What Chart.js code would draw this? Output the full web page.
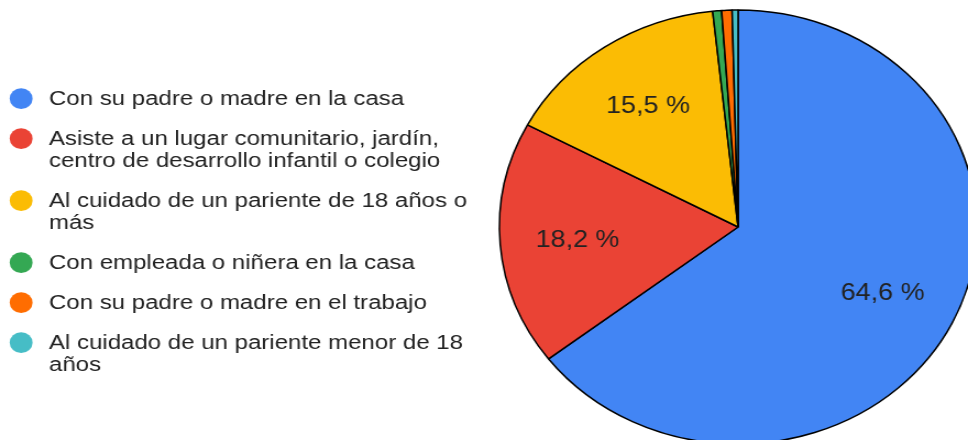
<!DOCTYPE html>
<html><head><meta charset="utf-8">
<script src="https://cdn.jsdelivr.net/npm/chart.js@4/dist/chart.umd.min.js"></script>
<style>
html,body{margin:0;padding:0;background:#fff;overflow:hidden;}
#c{display:block;}
</style></head><body>
<canvas id="c" width="880" height="440" style="width:968px;height:440px;"></canvas>
<script>
const categories = [
  ["Con su padre o madre en la casa"],
  ["Asiste a un lugar comunitario, jardín,", "centro de desarrollo infantil o colegio"],
  ["Al cuidado de un pariente de 18 años o", "más"],
  ["Con empleada o niñera en la casa"],
  ["Con su padre o madre en el trabajo"],
  ["Al cuidado de un pariente menor de 18", "años"]
];
const percentages = [64.6, 18.2, 15.5, 0.6, 0.7, 0.4];
const sliceColors = ["#4285F4", "#EA4335", "#FBBC04", "#34A853", "#FF6D01", "#46BDC6"];

const sideLegend = {
  id: 'sideLegend',
  afterDraw(chart) {
    const ctx = chart.ctx;
    const labels = chart.data.labels;
    const colors = chart.data.datasets[0].backgroundColor;
    ctx.save();
    let y = 105;
    labels.forEach((lines, i) => {
      ctx.fillStyle = colors[i];
      ctx.beginPath();
      ctx.arc(19.2, y - 6.3, 10.4, 0, Math.PI * 2);
      ctx.fill();
      ctx.fillStyle = '#222222';
      ctx.font = '19.5px "Liberation Sans", Arial, sans-serif';
      ctx.textBaseline = 'alphabetic';
      ctx.textAlign = 'left';
      lines.forEach((ln, j) => {
        ctx.save();
        ctx.translate(44.5, y + j * 22);
        ctx.scale(1.12, 1);
        ctx.fillText(ln, 0, 0);
        ctx.restore();
      });
      y += (lines.length - 1) * 22 + 40;
    });
    ctx.restore();
  }
};

const sliceLabels = {
  id: 'sliceLabels',
  afterDatasetsDraw(chart) {
    const ctx = chart.ctx;
    const meta = chart.getDatasetMeta(0);
    const vals = chart.data.datasets[0].data;
    ctx.save();
    ctx.font = '24.5px "Liberation Sans", Arial, sans-serif';
    ctx.fillStyle = '#222222';
    ctx.textAlign = 'center';
    ctx.textBaseline = 'middle';
    meta.data.forEach((arc, i) => {
      if (vals[i] < 5) return;
      const p = arc.getProps(['x', 'y', 'startAngle', 'endAngle', 'outerRadius'], true);
      const mid = (p.startAngle + p.endAngle) / 2;
      const r = p.outerRadius * 0.675;
      const txt = vals[i].toFixed(1).replace('.', ',') + ' %';
      ctx.fillText(txt, p.x + Math.cos(mid) * r, p.y + Math.sin(mid) * r + 1);
    });
    ctx.restore();
  }
};

new Chart(document.getElementById('c'), {
  type: 'pie',
  data: {
    labels: categories,
    datasets: [{
      data: percentages,
      backgroundColor: sliceColors,
      borderColor: '#000000',
      borderWidth: 1.5
    }]
  },
  options: {
    responsive: false,
    devicePixelRatio: 1,
    animation: false,
    radius: 217,
    layout: { padding: { left: 470, right: 8, top: 14, bottom: 0 } },
    plugins: {
      legend: { display: false },
      tooltip: { enabled: false }
    }
  },
  plugins: [sliceLabels, sideLegend]
});
</script>
</body></html>
